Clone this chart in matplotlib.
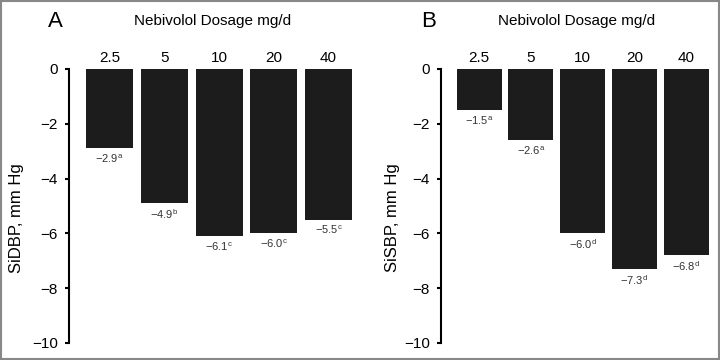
import matplotlib
matplotlib.use('Agg')
import matplotlib.pyplot as plt
from matplotlib.patches import Rectangle

plt.rcParams['font.family'] = ['Liberation Sans', 'DejaVu Sans']
plt.rcParams['mathtext.fontset'] = 'custom'
plt.rcParams['mathtext.rm'] = 'Liberation Sans'

doses = ['2.5', '5', '10', '20', '40']
sidbp = [-2.9, -4.9, -6.1, -6.0, -5.5]
sidbp_sup = ['a', 'b', 'c', 'c', 'c']
sisbp = [-1.5, -2.6, -6.0, -7.3, -6.8]
sisbp_sup = ['a', 'a', 'd', 'd', 'd']

W, H = 720, 360
fig = plt.figure(figsize=(7.2, 3.6), dpi=100)


def px_axes(x0, x1, ytop, ybot):
    return fig.add_axes([x0 / W, 1 - ybot / H, (x1 - x0) / W, (ybot - ytop) / H])


def draw_panel(ax, values, sups, ylabel, letter, width, labelx):
    x = range(len(values))
    ax.bar(x, values, width=width, color='#1c1c1c', linewidth=0)
    ax.set_xlim(-0.74, 4.5)
    ax.set_ylim(-10, 0)
    ax.set_yticks([0, -2, -4, -6, -8, -10])
    ax.tick_params(axis='y', direction='out', length=3, width=1.5, labelsize=11, pad=5)
    ax.xaxis.tick_top()
    ax.set_xticks(list(x))
    ax.set_xticklabels(doses)
    ax.tick_params(axis='x', length=0, labelsize=11, pad=3)
    for s in ['top', 'right', 'bottom']:
        ax.spines[s].set_visible(False)
    ax.spines['left'].set_linewidth(1.5)
    ax.set_ylabel(ylabel, fontsize=12)
    ax.yaxis.set_label_coords(labelx, 0.456)
    for i, (v, s) in enumerate(zip(values, sups)):
        ax.annotate(r'$\mathregular{-%.1f^{%s}}$' % (abs(v), s), (i, v), xytext=(0, -3),
                    textcoords='offset points', ha='center', va='top',
                    fontsize=8, color='#333333')
    ax.text(-0.075, 1.175, letter, transform=ax.transAxes, fontsize=16,
            ha='left', va='center')
    ax.text(0.5, 1.175, 'Nebivolol Dosage mg/d', transform=ax.transAxes,
            fontsize=11, ha='center', va='center')


ax1 = px_axes(69, 356, 69, 343)
draw_panel(ax1, sidbp, sidbp_sup, 'SiDBP, mm Hg', 'A', 0.86, -0.157)

ax2 = px_axes(441, 712, 69, 343)
draw_panel(ax2, sisbp, sisbp_sup, 'SiSBP, mm Hg', 'B', 0.87, -0.151)

fig.add_artist(Rectangle((0.002, 0.003), 0.996, 0.994, transform=fig.transFigure,
                         fill=False, edgecolor='#888888', linewidth=1.5))

fig.savefig('out.png', dpi=100)
